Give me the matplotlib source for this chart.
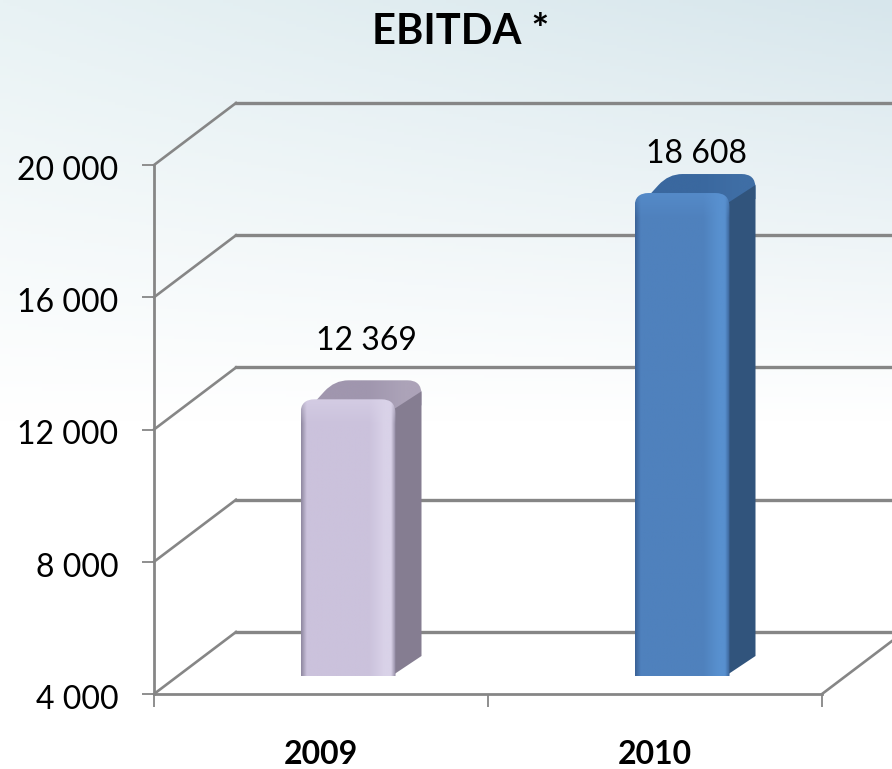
import matplotlib
matplotlib.use('Agg')
import matplotlib.pyplot as plt
import numpy as np
from matplotlib.colors import to_rgb
from matplotlib.path import Path
from matplotlib.patches import PathPatch
from matplotlib.ticker import FuncFormatter
from matplotlib.transforms import ScaledTranslation

plt.rcParams['font.family'] = ['Lato', 'DejaVu Sans']

years = ['2009', '2010']
values = [12369, 18608]
value_labels = ['12 369', '18 608']
y_ticks = [4000, 8000, 12000, 16000, 20000]

# подписи стоят вручную: сдвиг от верха передней грани, пиксели (x, y)
label_shift = [(18, 58), (14, 39)]

# (front base, front light, front dark, side, top dark, top light)
palettes = [
    ('#cbc2dc', '#d9d2e8', '#8f88a0', '#857d91', '#a096ae', '#aca3b8'),
    ('#4f81bd', '#5890cf', '#3a6296', '#31547c', '#3a689f', '#3f6ea5'),
]

W, H = 892, 769
fig = plt.figure(figsize=(W / 100, H / 100), dpi=100)

# фон: сверху бледно-голубой (справа темнее), к y~400 белый
bg = fig.add_axes([0, 0, 1, 1], zorder=-1)
bg.axis('off')
left_col = np.array(to_rgb('#e8f2f4'))
right_col = np.array(to_rgb('#d7e6ec'))
across = np.linspace(0, 1, 256)[None, :, None]
top_row = left_col * (1 - across) + right_col * across
fade = np.clip(np.linspace(0, 1, 256) * H / 420, 0, 1)[:, None, None]
bg.imshow(top_row * (1 - fade) + fade, aspect='auto', extent=[0, 1, 0, 1], origin='upper')

ax = fig.add_axes([154 / W, (H - 694) / H, (W - 154) / W, 529 / H])
ax.patch.set_alpha(0)

xmin, xmax = -0.5, -0.5 + (W - 154) / 334
px_x = 1 / 334
px_y = 16000 / 529
line_col = '#868686'


def dx(n):
    return n * px_x


def dy(n):
    return n * px_y


def rounded(points):
    # points: (x, y, rx, ry); corner with rx == 0 stays sharp
    verts, codes = [], []
    n = len(points)
    for i, (x, y, rx, ry) in enumerate(points):
        px, py = points[i - 1][:2]
        nx, ny = points[(i + 1) % n][:2]
        if rx == 0:
            verts.append((x, y))
            codes.append(Path.LINETO)
            continue
        a = np.array([x - px, y - py])
        b = np.array([nx - x, ny - y])
        sa = np.array([rx, ry]) * np.sign(a) if 0 in a else a * min(rx / max(abs(a[0]), 1e-9), 1)
        sb = np.array([rx, ry]) * np.sign(b) if 0 in b else b * min(rx / max(abs(b[0]), 1e-9), 1)
        verts += [(x - sa[0], y - sa[1]), (x, y), (x + sb[0], y + sb[1])]
        codes += [Path.LINETO, Path.CURVE3, Path.CURVE3]
    codes[0] = Path.MOVETO
    verts.append(verts[0])
    codes.append(Path.CLOSEPOLY)
    return Path(verts, codes)


def shaded(path, x0, x1, y0, y1, stops, cols, band=None, z=3):
    xs = np.linspace(0, 1, 200)
    rgb = np.stack([np.interp(xs, stops, [to_rgb(c)[k] for c in cols]) for k in range(3)], axis=1)
    img = np.repeat(rgb[None, :, :], 200, axis=0)
    if band is not None:
        # светлая кромка сверху
        h, col = band
        w = np.clip(1 - np.linspace(0, 1, 200) / h, 0, 1)[:, None, None] * 0.6
        img = img * (1 - w) + np.array(to_rgb(col)) * w
    im = ax.imshow(img, extent=[x0, x1, y0, y1], origin='upper', aspect='auto', zorder=z)
    patch = PathPatch(path, transform=ax.transData, facecolor='none', edgecolor='none')
    ax.add_patch(patch)
    im.set_clip_path(patch)
    im.set_clip_on(True)


# задняя стенка и левая грань
for t in y_ticks:
    ax.plot([-0.5, -0.5 + dx(82)], [t, t + dy(62)], color=line_col,
            lw=1.9, clip_on=False, zorder=1)
    ax.plot([-0.5 + dx(82), xmax], [t + dy(62), t + dy(62)], color=line_col,
            lw=2.4, clip_on=False, zorder=1)
ax.plot([1.5, xmax], [4000, 4000 + dy(53)], color=line_col, lw=1.9, clip_on=False, zorder=1)

bar_w = dx(95)
for i, (v, lab, pal, shift) in enumerate(zip(values, value_labels, palettes, label_shift)):
    base, light, dark, side, top_d, top_l = pal
    x0 = i + dx(27) - bar_w / 2
    x1 = x0 + bar_w
    y0 = 4000 + dy(18)
    t = v + dy(18)
    rx, ry = dx(14), dy(14)
    ox, oy = dx(26), dy(20)

    # верхняя грань
    top_path = rounded([(x0 + dx(4), t - ry, 0, 0), (x0 + dx(24), t + dy(8), 0, 0),
                        (x0 + dx(34), t + dy(19), rx, ry),
                        (x1 + ox, t + dy(19), rx, ry), (x1 + ox, t - dy(6), 0, 0),
                        (x1, t - ry, 0, 0)])
    shaded(top_path, x0, x1 + ox, t - ry, t + dy(19),
           [0, 0.55, 0.85, 1], [top_d, top_d, top_l, top_l], z=3)

    # боковая грань
    side_path = Path([(x1 - dx(4), y0), (x1 + ox, y0 + oy), (x1 + ox, t + dy(8)),
                      (x1 - dx(8), t - dy(14)), (x1 - dx(4), y0)],
                     [Path.MOVETO, Path.LINETO, Path.LINETO, Path.LINETO, Path.CLOSEPOLY])
    ax.add_patch(PathPatch(side_path, facecolor=side, edgecolor='none', zorder=4))

    # передняя грань
    front = rounded([(x0, y0, 0, 0), (x0, t, rx, ry), (x1, t, rx, ry), (x1, y0, 0, 0)])
    shaded(front, x0, x1, y0, t,
           [0, 0.06, 0.14, 0.72, 0.88, 0.95, 1],
           [dark, base, base, base, light, light, dark],
           band=(24 / ((t - y0) / px_y), light), z=5)

    ax.text(x0 + bar_w / 2 + dx(shift[0]), t + dy(shift[1]), lab, ha='center', va='center',
            fontsize=23, color='black', zorder=6)

ax.set_xlim(xmin, xmax)
ax.set_ylim(4000, 20000)

ax.spines['top'].set_visible(False)
ax.spines['right'].set_visible(False)
for s in ('left', 'bottom'):
    ax.spines[s].set_color(line_col)
    ax.spines[s].set_linewidth(2.0)
ax.spines['bottom'].set_bounds(-0.5, 1.5)

ax.set_yticks(y_ticks)
ax.yaxis.set_major_formatter(FuncFormatter(lambda val, _: f'{int(val):,}'.replace(',', ' ')))
ax.tick_params(axis='y', length=9, width=1.3, color=line_col, pad=16.5, labelsize=23)
down = ScaledTranslation(0, -3 / 100, fig.dpi_scale_trans)
for lbl in ax.get_yticklabels():
    lbl.set_transform(lbl.get_transform() + down)

ax.set_xticks([0, 1])
ax.set_xticklabels(years, fontsize=23, fontweight='bold')
ax.set_xticks([-0.5, 0.5, 1.5], minor=True)
ax.tick_params(axis='x', which='major', length=0, pad=33)
ax.tick_params(axis='x', which='minor', length=9, width=1.3, color=line_col)

fig.text(460.5 / W, 1 - 32 / H, 'EBITDA *', ha='center', va='center', fontsize=30, fontweight='bold')

fig.savefig('out.png', dpi=100)
